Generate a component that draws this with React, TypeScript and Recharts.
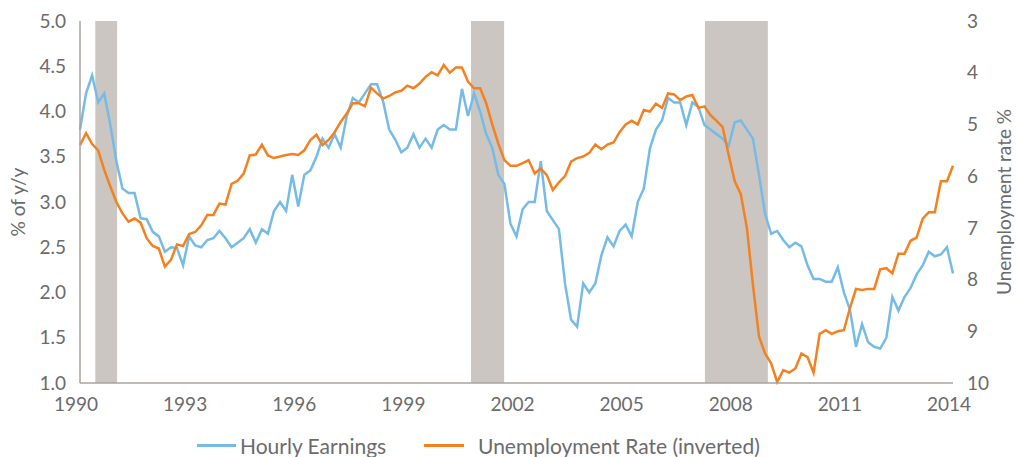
import React from "react";
import {
  LineChart,
  Line,
  XAxis,
  YAxis,
  ReferenceArea,
  Legend
} from "recharts";

// bimonthly readings, Jan 1990 .. Jan 2014 (6 per year)
const hourlyEarnings = [
  3.8, 4.2, 4.4, 4.1, 4.2, 3.85,
  3.45, 3.15, 3.1, 3.1, 2.82, 2.81,
  2.67, 2.62, 2.45, 2.5, 2.49, 2.3,
  2.62, 2.52, 2.5, 2.58, 2.6, 2.68,
  2.6, 2.5, 2.55, 2.6, 2.7, 2.55,
  2.7, 2.65, 2.9, 3.0, 2.9, 3.3,
  2.95, 3.3, 3.35, 3.5, 3.7, 3.6,
  3.75, 3.6, 3.95, 4.15, 4.1, 4.2,
  4.3, 4.3, 4.11, 3.8, 3.69, 3.55,
  3.6, 3.75, 3.6, 3.7, 3.6, 3.8,
  3.85, 3.8, 3.8, 4.25, 3.95, 4.2,
  4.0, 3.75, 3.6, 3.3, 3.2, 2.76,
  2.62, 2.92, 3.0, 3.0, 3.45, 2.9,
  2.8, 2.7, 2.1, 1.7, 1.62, 2.1,
  2.0, 2.1, 2.41, 2.61, 2.51, 2.68,
  2.75, 2.62, 3.0, 3.15, 3.59, 3.8,
  3.9, 4.15, 4.1, 4.1, 3.85, 4.1,
  4.05, 3.85, 3.8, 3.75, 3.7, 3.62,
  3.88, 3.9, 3.8, 3.7, 3.3, 2.87,
  2.65, 2.68, 2.58, 2.5, 2.55, 2.51,
  2.3, 2.15, 2.15, 2.12, 2.12, 2.28,
  2.0, 1.81, 1.4, 1.65, 1.45, 1.4,
  1.38, 1.5, 1.95, 1.8, 1.95, 2.05,
  2.2, 2.3, 2.45, 2.4, 2.42, 2.5,
  2.21
];

const unemploymentRate = [
  5.4, 5.17, 5.38, 5.5, 5.88, 6.2,
  6.5, 6.72, 6.88, 6.82, 6.9, 7.2,
  7.35, 7.4, 7.75, 7.62, 7.32, 7.35,
  7.12, 7.08, 6.95, 6.75, 6.75, 6.53,
  6.55, 6.15, 6.09, 5.95, 5.6, 5.58,
  5.39, 5.6, 5.65, 5.62, 5.59, 5.57,
  5.59, 5.5, 5.3, 5.2, 5.4, 5.3,
  5.15, 4.95, 4.79, 4.59, 4.59, 4.65,
  4.29, 4.4, 4.5, 4.45, 4.38, 4.35,
  4.25, 4.3, 4.21, 4.08, 3.99, 4.05,
  3.85, 4.0, 3.9, 3.9, 4.17, 4.3,
  4.3, 4.59, 5.0, 5.37, 5.69, 5.8,
  5.8, 5.75, 5.69, 5.95, 5.85, 5.98,
  6.27, 6.12, 6.0, 5.72, 5.65, 5.62,
  5.55, 5.39, 5.48, 5.39, 5.35, 5.15,
  5.0, 4.93, 5.0, 4.72, 4.75, 4.6,
  4.68, 4.4, 4.42, 4.53, 4.46, 4.43,
  4.68, 4.65, 4.82, 4.93, 5.05, 5.59,
  6.1, 6.35, 7.0, 8.1, 9.1, 9.43,
  9.62, 9.98, 9.75, 9.8, 9.72, 9.43,
  9.5, 9.8, 9.05, 8.98, 9.05, 9.0,
  8.98, 8.55, 8.18, 8.2, 8.18, 8.18,
  7.8, 7.78, 7.88, 7.5, 7.5, 7.25,
  7.19, 6.82, 6.7, 6.7, 6.1, 6.1,
  5.8
];

const recessions = [
  { from: 1990.42, to: 1991.02 },
  { from: 2000.75, to: 2001.66 },
  { from: 2007.18, to: 2008.91 }
];

const yearTicks = [1990, 1993, 1996, 1999, 2002, 2005, 2008, 2011, 2014];
const leftTicks = [1.0, 1.5, 2.0, 2.5, 3.0, 3.5, 4.0, 4.5, 5.0];
const rightTicks = [3, 4, 5, 6, 7, 8, 9, 10];

const BLUE = "#76bbe6";
const ORANGE = "#f5801f";
const TEXT = "#6b6b6b";
const AXIS = "#aaa39e";
const FONT = "Lato, 'Open Sans', sans-serif";

const data = hourlyEarnings.map((he, i) => ({
  t: 1990 + i / 6,
  he,
  ur: unemploymentRate[i]
}));

const renderLegend = () => (
  <div
    style={{
      position: "relative",
      height: 34,
      fontFamily: FONT,
      fontSize: 21,
      color: TEXT
    }}
  >
    <div style={{ position: "absolute", left: 197, top: 10, display: "flex", alignItems: "center" }}>
      <span style={{ display: "inline-block", width: 39, height: 2.5, background: BLUE }} />
      <span style={{ marginLeft: 4 }}>Hourly Earnings</span>
    </div>
    <div style={{ position: "absolute", left: 424, top: 10, display: "flex", alignItems: "center" }}>
      <span style={{ display: "inline-block", width: 40, height: 2.5, background: ORANGE }} />
      <span style={{ marginLeft: 14 }}>Unemployment Rate (inverted)</span>
    </div>
  </div>
);

const App: React.FC = () => {
  const tickStyle = { fill: TEXT, fontSize: 19, fontFamily: FONT };
  return (
    <div style={{ width: 1016, height: 457 }}>
      <style>{`body{margin:0;overflow:hidden;}`}</style>
      <LineChart
        width={1016}
        height={457}
        data={data}
        margin={{ top: 21, right: 0, left: 0, bottom: 0 }}
      >
        <XAxis
          dataKey="t"
          type="number"
          domain={[1990, 2014]}
          ticks={yearTicks}
          tickFormatter={(v: number) => String(Math.round(v))}
          tick={{ ...tickStyle, dx: -4 }}
          tickLine={false}
          tickSize={0}
          tickMargin={15}
          axisLine={{ stroke: AXIS, strokeWidth: 1.5 }}
          height={40}
          allowDecimals={false}
        />
        <YAxis
          yAxisId="l"
          domain={[1, 5]}
          ticks={leftTicks}
          tickFormatter={(v: number) => v.toFixed(1)}
          tick={tickStyle}
          tickLine={false}
          tickSize={0}
          tickMargin={14}
          axisLine={{ stroke: AXIS, strokeWidth: 1.5 }}
          width={80}
          label={{
            value: "% of y/y",
            angle: -90,
            position: "insideLeft",
            offset: 18,
            style: { textAnchor: "middle", fill: TEXT, fontSize: 19, fontFamily: FONT }
          }}
        />
        <YAxis
          yAxisId="r"
          orientation="right"
          domain={[3, 10]}
          reversed
          ticks={rightTicks}
          tick={tickStyle}
          tickLine={false}
          tickSize={0}
          tickMargin={14}
          axisLine={false}
          width={63}
          label={{
            value: "Unemployment rate %",
            angle: -90,
            position: "insideRight",
            offset: 12,
            style: { textAnchor: "middle", fill: TEXT, fontSize: 19, fontFamily: FONT }
          }}
        />
        {recessions.map((r, i) => (
          <ReferenceArea
            key={i}
            yAxisId="l"
            x1={r.from}
            x2={r.to}
            y1={1}
            y2={5}
            fill="#cbc6c2"
            fillOpacity={1}
            stroke="none"
          />
        ))}
        <Line
          yAxisId="l"
          type="linear"
          dataKey="he"
          name="Hourly Earnings"
          stroke={BLUE}
          strokeWidth={2.5}
          dot={false}
          isAnimationActive={false}
        />
        <Line
          yAxisId="r"
          type="linear"
          dataKey="ur"
          name="Unemployment Rate (inverted)"
          stroke={ORANGE}
          strokeWidth={2.5}
          dot={false}
          isAnimationActive={false}
        />
        <Legend verticalAlign="bottom" height={34} content={renderLegend} wrapperStyle={{ left: 0, width: 1016 }} />
      </LineChart>
    </div>
  );
};

export default App;
